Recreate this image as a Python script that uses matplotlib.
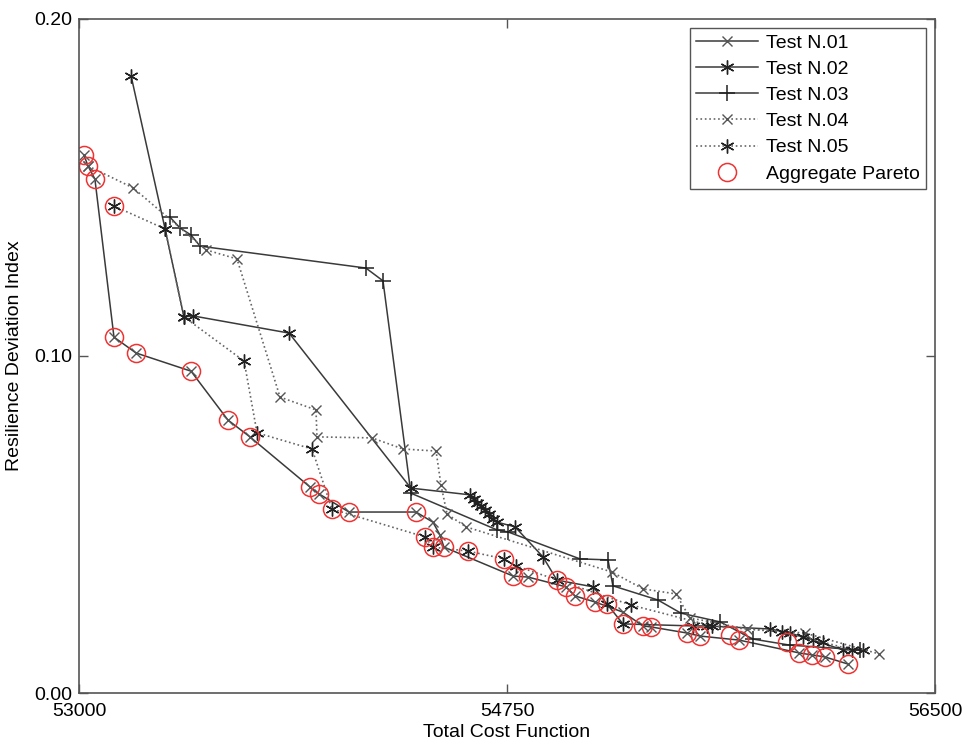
import numpy as np
import matplotlib
matplotlib.use("Agg")
import matplotlib.pyplot as plt

plt.rcParams['font.family'] = ['Liberation Sans', 'DejaVu Sans']

# Test N.01 (solid, x)
t1_cost = [53020, 53037, 53065, 53143, 53233, 53458, 53609, 53699, 53945, 53981,
           54104, 54378, 54447, 54476, 54492, 54775, 54836, 54991, 55028, 55110,
           55224, 55306, 55339, 55486, 55539, 55699, 55944, 55997, 56050, 56144]
t1_rdi = [0.1596, 0.1564, 0.1525, 0.1056, 0.1009, 0.0955, 0.0810, 0.0760, 0.0611, 0.0591,
          0.0537, 0.0537, 0.0507, 0.0469, 0.0433, 0.0347, 0.0344, 0.0315, 0.0288, 0.0270,
          0.0240, 0.0199, 0.0196, 0.0178, 0.0169, 0.0157, 0.0119, 0.0113, 0.0107, 0.0086]

# Test N.02 (solid, *)
t2_cost = [53213, 53352, 53429, 53466, 53859, 54357, 54599, 54615, 54627, 54644,
           54660, 54676, 54693, 54709, 54783, 54897, 54954, 55102, 55159, 55224,
           55511, 55568, 55825, 55907, 56001, 56124, 56206]
t2_rdi = [0.1831, 0.1377, 0.1116, 0.1119, 0.1068, 0.0608, 0.0588, 0.0576, 0.0564, 0.0555,
          0.0543, 0.0531, 0.0516, 0.0507, 0.0493, 0.0404, 0.0335, 0.0315, 0.0264, 0.0205,
          0.0199, 0.0199, 0.0190, 0.0178, 0.0157, 0.0128, 0.0128]

# Test N.03 (solid, +)
t3_cost = [53372, 53413, 53458, 53495, 54173, 54243, 54357, 54709, 54754, 55048,
           55163, 55183, 55367, 55461, 55621, 55756, 55907, 56193]
t3_rdi = [0.1412, 0.1380, 0.1359, 0.1326, 0.1261, 0.1223, 0.0593, 0.0484, 0.0478, 0.0398,
          0.0395, 0.0318, 0.0276, 0.0237, 0.0211, 0.0160, 0.0142, 0.0128]

# Test N.04 (dotted, x)
t4_cost = [53037, 53221, 53519, 53646, 53822, 53969, 53973, 54198, 54325, 54460,
           54480, 54505, 54582, 55179, 55306, 55441, 55498, 55731, 55968, 56271]
t4_rdi = [0.1564, 0.1499, 0.1315, 0.1288, 0.0878, 0.0840, 0.0760, 0.0757, 0.0724, 0.0718,
          0.0617, 0.0531, 0.0493, 0.0359, 0.0309, 0.0294, 0.0223, 0.0190, 0.0178, 0.0116]

# Test N.05 (dotted, *)
t5_cost = [53143, 53352, 53429, 53675, 53728, 53953, 54034, 54415, 54447, 54591,
           54738, 54787, 55257, 55588, 55874, 55960, 56042, 56161]
t5_rdi = [0.1445, 0.1377, 0.1116, 0.0985, 0.0772, 0.0724, 0.0546, 0.0463, 0.0433, 0.0421,
          0.0398, 0.0377, 0.0261, 0.0199, 0.0181, 0.0166, 0.0151, 0.0128]

# aggregate Pareto front
par_cost = [53020, 53037, 53065, 53143, 53143, 53233, 53458, 53609, 53699, 53945,
            53981, 54034, 54104, 54378, 54415, 54447, 54492, 54591, 54738, 54775,
            54836, 54954, 54991, 55028, 55110, 55159, 55224, 55306, 55339, 55486,
            55539, 55662, 55699, 55895, 55944, 55997, 56050, 56144]
par_rdi = [0.1596, 0.1564, 0.1525, 0.1445, 0.1056, 0.1009, 0.0955, 0.0810, 0.0760, 0.0611,
           0.0591, 0.0546, 0.0537, 0.0537, 0.0463, 0.0433, 0.0433, 0.0421, 0.0398, 0.0347,
           0.0344, 0.0335, 0.0315, 0.0288, 0.0270, 0.0264, 0.0205, 0.0199, 0.0196, 0.0178,
           0.0169, 0.0172, 0.0157, 0.0151, 0.0119, 0.0113, 0.0107, 0.0086]

xticks = [53000, 54750, 56500]
yticks = [0.0, 0.1, 0.2]

fig = plt.figure(figsize=(9.67, 7.46), dpi=100)
ax = fig.add_axes([79/967, 53/746, 856/967, 674/746])

lc = '#3a3a3a'
mc = '#555555'
ax.plot(t1_cost, t1_rdi, '-', color=lc, lw=1.1, marker='x', ms=7, mec=mc, mew=1.0, label='Test N.01')
ax.plot(t2_cost, t2_rdi, '-', color=lc, lw=1.1, marker=(6, 2, 0), ms=10, mec='#222222', mew=1.0, label='Test N.02')
ax.plot(t3_cost, t3_rdi, '-', color=lc, lw=1.1, marker='+', ms=11, mec='#222222', mew=1.1, label='Test N.03')
ax.plot(t4_cost, t4_rdi, ':', color='#666666', lw=1.2, marker='x', ms=7, mec=mc, mew=1.0, label='Test N.04')
ax.plot(t5_cost, t5_rdi, ':', color='#666666', lw=1.2, marker=(6, 2, 0), ms=10, mec='#222222', mew=1.0, label='Test N.05')
ax.plot(par_cost, par_rdi, 'o', ms=13, mfc='none', mec='#ee3333', mew=1.1, label='Aggregate Pareto')

ax.set_xlim(53000, 56500)
ax.set_ylim(0, 0.2)
ax.set_xticks(xticks)
ax.set_yticks(yticks)
ax.set_xticklabels([str(v) for v in xticks])
ax.set_yticklabels(['%.2f' % v for v in yticks])
ax.tick_params(direction='in', length=6.5, width=1.0, color='#555555', labelsize=14,
               top=True, right=True)
ax.tick_params(axis='x', pad=7)
ax.tick_params(axis='y', pad=5)
for s in ax.spines.values():
    s.set_color('#555555')
    s.set_linewidth(1.2)

ax.set_xlabel('Total Cost Function', fontsize=14)
ax.set_ylabel('Resilience Deviation Index', fontsize=14)
ax.xaxis.set_label_coords(0.5, -0.046)
ax.yaxis.set_label_coords(-0.066, 0.5)

leg = ax.legend(loc='upper right', fontsize=14, fancybox=False, edgecolor='#555555',
                framealpha=1, handlelength=3.2, labelspacing=0.44, borderaxespad=0.45,
                handletextpad=0.4, borderpad=0.33)
leg.get_frame().set_linewidth(1.0)

fig.savefig('out.png', dpi=100)
